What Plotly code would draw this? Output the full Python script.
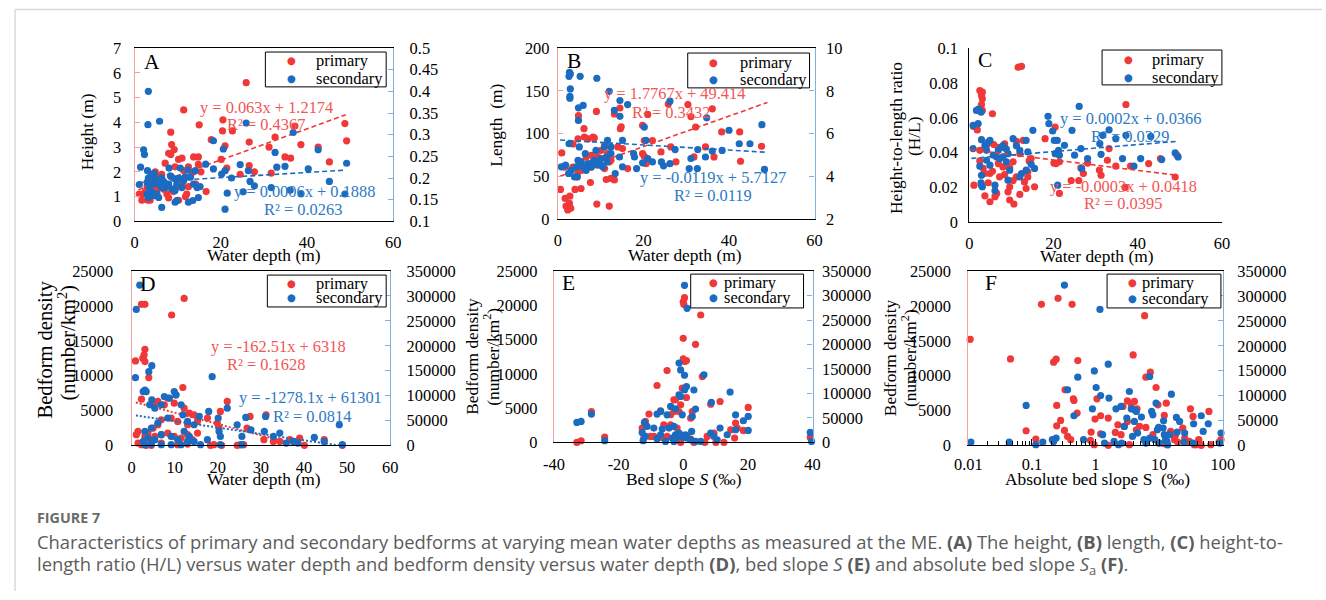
import numpy as np
import plotly.graph_objects as go

# Page geometry: the body keeps an 8 px margin and the photographed page maps
# page pixels to picture pixels as  X = SX*x + X0,  Y = SY*y  (measured).
OFF = 8
SX, SY, X0 = 0.982, 0.9725, 4.4
W, H = 1334, 601
FS = 2.0 / (SX + SY)          # size compensation for the photographic scaling
SERIF = "Liberation Serif, Times New Roman, Times, serif"
SANS = "Open Sans, sans-serif"
RED = "#F03838"
BLUE = "#1B6BC0"
RED_TXT = "#F25656"
BLUE_TXT = "#2D7AC4"
RED_AX = "#F4A0A0"
BLUE_AX = "#7FB0DE"

# ---------------- DATA ----------------
A_pri = [(25.9,5.6),(11.4,4.5),(15.0,3.9),(20.5,4.1),(20.4,3.65),(22.7,3.65),(8.4,3.6),(8.6,3.1),(9.2,2.9),(7.9,2.75),
         (8.4,2.7),(17.8,3.3),(21.0,3.05),(26.6,3.2),(32.6,3.4),(31.2,3.0),(37.2,3.85),(38.6,3.1),(42.6,3.0),(48.8,3.95),
         (49.2,3.25),(34.9,2.6),(36.2,2.55),(45.2,2.4),(20.1,2.5),(21.4,2.15),(24.5,1.9),(26.6,2.25),(27.8,2.0),(31.7,1.95),
         (16.6,1.2),(13.7,2.6),(14.8,2.6),(10.2,2.5),(11.0,2.55),(12.5,2.2),(13.7,2.0),(14.8,2.3),(15.4,2.0),(9.4,2.2),
         (6.3,1.9),(5.6,1.8),(7.1,2.35),(4.0,1.4),(2.1,1.1),(1.7,0.85),(1.1,1.1),(3.1,0.85),(3.6,0.85),(10.2,0.85),
         (12.1,1.1),(12.5,1.4),(7.9,0.95),(6.3,1.5),(3.4,0.95),(2.9,1.4),(5.2,1.25),(10.2,1.65),(11.0,1.5),(9.8,1.4),
         (8.6,1.8),(11.4,2.05),(4.5,1.6),(5.0,1.1),(2.5,1.2),(6.8,1.3),(13.0,1.8),(9.0,1.2),(7.5,1.1),(14.2,1.5),
         (11.8,1.0),(4.8,2.0)]
A_sec = [(3.2,0.40),(3.1,0.323),(5.8,0.331),(2.1,0.265),(2.3,0.254),(1.4,0.225),(1.1,0.185),(3.0,0.217),(4.6,0.211),(8.0,0.223),
         (10.6,0.223),(12.4,0.218),(14.1,0.217),(16.5,0.232),(18.3,0.286),(20.6,0.267),(18.3,0.221),(20.2,0.209),(21.0,0.217),(24.5,0.231),
         (25.9,0.327),(26.8,0.192),(27.8,0.182),(26.4,0.217),(33.0,0.225),(32.6,0.259),(34.9,0.227),(36.8,0.305),(36.1,0.172),(38.6,0.163),
         (40.3,0.221),(42.6,0.265),(45.2,0.192),(49.2,0.234),(48.8,0.163),(31.7,0.178),(25.2,0.168),(21.5,0.165),(21.0,0.128),(6.3,0.132),
         (9.4,0.144),(9.8,0.148),(12.5,0.144),(13.5,0.148),(14.8,0.155),(22.5,0.20),(2.9,0.163),(3.2,0.155),(3.6,0.159),(4.0,0.167),
         (4.4,0.159),(5.2,0.163),(5.6,0.155),(3.4,0.178),(4.4,0.186),(5.6,0.186),(6.3,0.178),(7.1,0.178),(7.9,0.186),(8.6,0.175),
         (9.4,0.171),(9.8,0.186),(11.0,0.178),(11.4,0.194),(11.7,0.202),(12.9,0.202),(13.7,0.186),(14.5,0.178),(15.2,0.18),(3.2,0.20),
         (4.8,0.198),(6.3,0.20),(8.3,0.205),(9.4,0.198),(2.9,0.19),(3.9,0.209),(6.7,0.192),(10.3,0.2)]
A_fit_pri = (0.063, 1.2174)
A_fit_sec = (0.0006, 0.1888)
A_fit_x = [0.9, 49]

B_pri = [(2.6,14.7),(2.7,18.6),(2.3,10.9),(1.9,15.5),(3.0,12.8),(2.8,27),(1.7,24.4),(0.6,34.9),(0.9,77.5),(4.0,34.9),
         (5.4,36),(7.6,43),(9.1,17.8),(12.0,15.5),(13.2,46),(4.5,49.6),(4.7,55.4),(4.8,121),(6.1,105.8),(9.0,126),
         (13.2,123),(14.5,130),(14.6,105.8),(14.8,108),(7.1,94),(8.2,96),(8.5,95),(6.2,96),(4.7,94),(3.5,88),
         (10.1,80.6),(10.9,86),(11.6,76.7),(12.4,69),(12.0,67),(14.0,84.5),(15.1,82.6),(9.3,72.9),(7.8,74.8),(6.6,72.9),
         (5.4,67),(5.4,57),(7.8,61),(10.1,63),(10.9,59.3),(12.4,47.7),(11.3,46.5),(16.3,59.3),(19.8,109.7),(21.0,122.5),
         (22.1,92),(20.2,92),(19.8,76.7),(20.2,73.6),(20.6,65),(24.1,78.7),(25.8,134.6),(26.4,84.5),(27.6,67),(30.4,134),
         (31.1,120),(31.8,72.9),(32.2,107.8),(34.5,84.5),(36.1,129),(36.5,72.9),(38.3,102),(42.5,102),(42.7,67.8),(47.6,85.3),
         (1.6,61),(3.5,61)]
B_sec = [(2.7,8.87),(2.9,8.79),(2.6,8.68),(2.9,8.09),(2.8,7.74),(2.8,7.66),(5.2,8.68),(9.1,8.59),(12.0,7.98),(5.9,7.32),
         (4.8,7.21),(4.8,6.62),(13.2,7.09),(14.5,7.55),(14.5,6.81),(16.3,7.36),(15.1,5.69),(26.2,7.52),(34.8,6.74),(40.0,6.16),
         (42.4,5.53),(44.9,5.53),(47.7,6.42),(48.3,4.33),(30.7,4.37),(32.6,4.37),(34.5,4.91),(36.1,5.19),(38.4,5.22),(32.7,5.26),
         (31.1,4.84),(27.4,5.26),(26.2,4.6),(24.7,4.5),(24.2,4.68),(22.1,4.68),(21.0,4.84),(20.2,6.31),(20.6,5.69),(19.8,4.64),
         (18.4,4.37),(17.9,4.91),(17.7,5.07),(15.1,4.45),(13.4,4.14),(12.4,5.38),(11.6,5.69),(10.9,5.38),(11.3,4.91),(10.5,4.45),
         (9.7,4.6),(8.9,5.22),(8.5,4.76),(7.8,4.45),(7.0,4.6),(6.4,5.07),(5.0,5.38),(4.7,4.76),(4.3,4.45),(3.9,3.98),
         (4.5,3.98),(3.1,4.29),(2.5,4.14),(0.8,4.45),(1.8,4.53),(2.6,5.53),(5.4,4.68),(5.8,4.45),(6.6,4.29),(8.2,4.68),
         (10.1,4.84),(12.4,5.07),(14.4,4.91),(11.5,4.68),(9.3,4.53)]
B_fit_pri = (1.7767, 49.414)
B_fit_sec = (-0.0119, 5.7127)
B_fit_x = [0.5, 49]

C_pri = [(11.6,0.089),(12.4,0.0895),(2.5,0.0756),(3.1,0.0747),(2.9,0.0728),(3.1,0.0709),(2.9,0.0676),(5.5,0.0623),(3.1,0.0642),(1.0,0.055),
         (1.9,0.053),(37.2,0.0676),(20.4,0.0547),(18.0,0.048),(20.1,0.034),(20.6,0.0337),(21.4,0.0347),(26.5,0.0312),(27.1,0.028),(28.1,0.034),
         (30.9,0.030),(31.3,0.027),(32.8,0.0356),(33.2,0.0423),(34.8,0.0322),(38.3,0.0322),(42.6,0.0337),(45.4,0.0366),(48.9,0.026),(49.3,0.0385),
         (37.0,0.020),(26.0,0.024),(24.2,0.024),(21.4,0.0166),(13.5,0.0194),(12.0,0.016),(9.6,0.0128),(10.6,0.0105),(9.6,0.0204),(9.2,0.0175),
         (3.7,0.0152),(4.9,0.0118),(6.1,0.0147),(6.5,0.0166),(1.1,0.0213),(4.5,0.0227),(4.9,0.028),(3.7,0.028),(5.5,0.0293),(7.2,0.0261),
         (8.4,0.0274),(8.0,0.0318),(6.9,0.0337),(8.8,0.0328),(9.6,0.0312),(10.4,0.0347),(12.0,0.0394),(11.2,0.0261),(13.9,0.029),(14.2,0.0352),
         (14.7,0.0366),(15.5,0.0204),(12.8,0.047),(11.2,0.0465),(8.4,0.045),(6.9,0.043),(5.8,0.0446),(4.1,0.0442),(2.5,0.0413),(2.5,0.0352),
         (3.3,0.0309),(10.4,0.024),(13.1,0.0232),(13.9,0.026)]
C_sec = [(1.7,0.0642),(2.8,0.0632),(2.2,0.065),(0.9,0.0556),(2.1,0.0566),(2.9,0.0474),(0.9,0.0423),(4.5,0.046),(4.9,0.047),(4.1,0.0413),
         (3.7,0.044),(5.7,0.0385),(6.5,0.0375),(6.9,0.0413),(7.6,0.043),(8.0,0.044),(8.8,0.042),(9.2,0.0394),(10.4,0.048),(11.2,0.044),
         (12.0,0.0413),(13.5,0.047),(13.9,0.0404),(15.1,0.0528),(18.7,0.0608),(18.9,0.0566),(19.8,0.0524),(20.2,0.047),(20.9,0.047),(21.2,0.0413),
         (20.4,0.0394),(21.4,0.0385),(22.6,0.0442),(24.4,0.0528),(25.0,0.0385),(26.1,0.0665),(26.5,0.0423),(26.7,0.0309),(28.1,0.0366),(31.3,0.039),
         (31.0,0.0451),(31.7,0.0499),(33.2,0.0531),(34.8,0.048),(37.2,0.0499),(36.4,0.0366),(39.1,0.0322),(40.7,0.0366),(45.7,0.036),(48.9,0.0398),
         (49.6,0.0375),(43.1,0.0493),(21.0,0.0213),(14.7,0.0333),(15.5,0.0309),(13.5,0.0299),(12.4,0.028),(12.0,0.0261),(9.6,0.0299),(9.2,0.0242),
         (6.1,0.0213),(6.1,0.0181),(2.5,0.0322),(2.9,0.027),(2.9,0.0213),(3.1,0.0204),(2.8,0.0227),(4.9,0.0328),(8.8,0.0347),(4.1,0.0356),
         (7.2,0.0366),(8.0,0.0375)]
C_fit_pri = (-0.0003, 0.0418)
C_fit_sec = (0.0002, 0.0366)
C_fit_x = [0.5, 49]

D_pri = [(2.3,20230),(3.1,20230),(12.2,21080),(9.3,18700),(0.9,12120),(3.1,13790),(2.9,12980),(2.6,12500),(3.1,12020),(4.0,9730),
         (5.2,5720),(2.3,6630),(6.1,6300),(7.6,5820),(8.4,6770),(9.9,6060),(10.3,7250),(11.9,8300),(12.2,5340),(13.4,4630),
         (14.5,4390),(15.3,3430),(13.0,2960),(10.7,3430),(9.2,3910),(6.9,3670),(6.1,2960),(5.0,2480),(3.8,1770),(1.5,2000),
         (1.1,1530),(3.1,1290),(4.6,810),(5.4,1290),(6.9,1530),(8.4,1770),(9.9,1290),(11.5,1050),(13.0,1530),(14.1,810),
         (15.3,1770),(1.5,330),(2.3,100),(3.4,0),(4.6,0),(6.9,330),(10.7,100),(13.0,190),(18.3,0),(19.1,100),
         (17.6,3910),(19.9,3190),(20.3,2480),(20.6,4870),(22.2,6300),(20.9,0),(24.5,0),(25.2,100),(26.8,2480),(26.0,100),
         (27.5,4150),(30.7,810),(31.2,4390),(32.9,570),(34.4,570),(36.7,810),(38.4,570),(40.1,0),(44.7,810),(39.0,1050),
         (48.9,0)]
D_sec = [(1.9,322000),(1.1,273000),(0.9,136000),(2.7,108000),(3.1,111000),(3.4,108000),(4.0,148000),(4.7,160000),(4.2,81500),(4.7,91500),
         (5.4,74800),(6.9,81500),(7.6,98200),(8.8,94900),(9.9,108000),(10.3,101500),(11.5,81500),(11.9,61400),(13.0,48100),(14.5,41400),
         (15.7,58100),(8.4,54800),(6.1,44800),(4.6,34700),(3.1,28100),(3.8,14700),(2.7,8000),(5.4,11400),(6.9,21400),(9.2,18000),
         (10.7,11400),(12.2,28100),(13.4,18000),(14.5,8000),(16.0,1300),(17.6,11400),(13.0,8000),(11.5,1300),(9.2,1300),(6.9,1300),
         (4.6,2700),(3.1,1300),(18.7,138000),(17.9,68100),(20.1,54800),(20.3,28100),(20.6,18000),(22.2,74800),(24.5,41400),(25.6,18000),
         (26.5,56100),(27.7,31400),(30.8,28100),(31.1,58100),(32.9,18000),(34.4,24700),(35.9,4700),(37.5,8000),(38.6,4700),(42.4,16000),
         (44.7,8000),(48.2,41400),(48.9,1300),(20.6,1300),(25.6,1300)]
D_fit_pri = (-162.51, 6318)
D_fit_sec = (-1278.1, 61301)
D_fit_x = [1, 49]

E_pri = [(0.4,21120),(0.0,20530),(0.2,20140),(5.4,18590),(0.0,15190),(0.0,12180),(0.5,11800),(1.0,11940),(3.8,14320),(-5.0,10480),
         (-8.1,8300),(5.9,9610),(-0.3,7910),(-2.4,6210),(-2.9,6210),(1.0,6550),(-0.8,5490),(-1.3,4510),(-7.0,4610),(-10.6,4130),
         (-28.4,4510),(-11.7,3060),(-6.0,2570),(-3.9,2570),(-1.9,2090),(2.3,3540),(2.8,4510),(8.5,5580),(11.4,5970),(20.1,5100),
         (16.2,2820),(14.7,1840),(18.6,1750),(16.7,2090),(15.9,630),(9.5,1360),(7.4,870),(10.1,0),(12.6,0),(3.3,0),
         (6.7,0),(-0.8,0),(-12.2,630),(-10.1,870),(-9.1,870),(-7.0,730),(-5.0,870),(-2.4,870),(1.2,870),(2.3,490),
         (-32.9,0),(-31.6,240),(-24.3,780),(39.3,730),(-12.7,2090),(-3.9,4030),(-2.9,4510)]
E_sec = [(0.4,321000),(1.2,274000),(-1.3,162000),(-0.8,148000),(0.4,137000),(6.4,138000),(1.0,114000),(0.4,107000),(3.3,107000),(14.5,103000),
         (8.7,81600),(-1.3,97200),(-0.8,93800),(-3.9,73400),(-2.4,68600),(-7.0,63200),(-8.1,57800),(3.8,68000),(2.8,53000),(-0.3,56400),
         (-5.0,56400),(-28.4,57800),(-32.9,40800),(-31.6,42800),(-12.0,40800),(-11.2,32600),(-9.1,29200),(-6.5,27200),(-4.4,29200),(-2.9,32600),
         (2.6,22400),(8.5,19000),(11.4,29200),(16.2,56400),(18.6,44200),(20.1,53000),(20.1,24500),(16.2,25800),(13.6,15600),(10.5,5400),
         (9.5,12200),(-12.7,20400),(-11.7,12200),(-12.4,3400),(-24.3,3400),(-8.1,7500),(-5.5,2000),(-3.4,8800),(-2.4,15600),(-1.9,10200),
         (-1.3,19000),(-0.8,15600),(-0.3,12200),(0.2,10200),(0.7,15600),(1.2,8800),(2.3,5400),(3.8,2000),(5.4,2000),(39.3,20400),
         (39.7,2000),(-2.9,2000),(-7.0,15600)]

F_pri = [(0.0107,15220),(0.046,12400),(0.081,2100),(0.115,900),(0.141,20230),(0.257,21090),(0.427,20230),(0.219,11930),(0.24,12360),(0.525,12170),
         (0.245,5730),(0.245,2810),(0.282,3580),(0.331,7970),(0.447,6680),(0.457,6440),(0.513,4630),(0.324,2150),(0.363,1290),(0.407,810),
         (1.05,6680),(0.98,3770),(1.2,4250),(1.58,3910),(1.58,0),(1.2,1670),(0.85,1910),(0.83,720),(0.95,100),(2.04,1860),
         (2.24,2960),(2.69,5580),(3.16,6390),(3.63,5920),(4.07,6300),(3.89,12980),(4.47,5250),(3.16,3440),(2.82,2720),(2.51,1530),
         (3.39,100),(4.37,2240),(4.9,2720),(5.89,18610),(6.17,9780),(7.24,10500),(6.17,2580),(7.94,1530),(8.91,8300),(9.55,5820),
         (12.0,4290),(12.9,6060),(15.1,2000),(17.4,810),(17.8,1380),(19.5,480),(23.4,2480),(25.1,1050),(29.5,570),(33.9,4150),
         (38.0,100),(30.9,5250),(35.5,100),(41.7,810),(42.7,330),(60.3,4870),(64.6,100),(87.1,480),(93.3,810),(45.7,0),
         (9.77,330),(12.0,240),(13.5,100)]
F_sec = [(0.011,6700),(0.044,6700),(0.081,80200),(0.115,1300),(0.148,6700),(0.209,11400),(0.24,14700),(0.219,8000),(0.324,322000),(0.363,111500),
         (0.457,59500),(0.525,137000),(0.646,11400),(0.891,73500),(0.955,149600),(1.02,116200),(1.2,100200),(1.17,273000),(1.62,94900),(1.58,163000),
         (1.29,21400),(1.38,4700),(1.95,8000),(2.09,73500),(2.29,1300),(2.51,78200),(2.57,4700),(2.82,38100),(3.09,54800),(3.39,108200),
         (3.63,73500),(4.07,71500),(4.37,68100),(4.07,48100),(3.8,18000),(4.57,24700),(5.25,56800),(5.75,11400),(6.17,4700),(7.08,138300),
         (7.08,14700),(7.59,68100),(7.94,61400),(8.91,84800),(9.33,31400),(8.51,11400),(9.77,36100),(11.5,34700),(11.7,49400),(12.0,21400),
         (12.6,11400),(13.5,1300),(14.5,21400),(15.5,102900),(13.2,8000),(19.1,26700),(18.6,56100),(20.9,48100),(25.1,24700),(24.5,6700),
         (33.9,4700),(34.7,43400),(45.7,59500),(49.0,28100),(58.9,43400),(89.1,4700),(93.3,24700),(10.0,4700)]

# tick labels
A_left_ticks = [0, 1, 2, 3, 4, 5, 6, 7]
A_right_ticks = ["0.1", "0.15", "0.2", "0.25", "0.3", "0.35", "0.4", "0.45", "0.5"]
B_left_ticks = [0, 50, 100, 150, 200]
B_right_ticks = [2, 4, 6, 8, 10]
C_left_ticks = ["0", "0.02", "0.04", "0.06", "0.08", "0.1"]
depth_ticks = [0, 20, 40, 60]
depth_ticks_D = [0, 10, 20, 30, 40, 50, 60]
dens_left_ticks = [0, 5000, 10000, 15000, 20000, 25000]
dens_right_ticks = [0, 50000, 100000, 150000, 200000, 250000, 300000, 350000]
slope_ticks = ["-40", "-20", "0", "20", "40"]
abs_slope_ticks = ["0.01", "0.1", "1", "10", "100"]

# ---------------- HELPERS ----------------
def fx(d):
    return ((d - X0) / SX - OFF) / W

def fy(d):
    return 1 - (d / SY - OFF) / H

def fs(v):
    return round(v * FS, 1)

def so(v):
    return int(round(v * FS))

def unzip(pairs):
    return [p[0] for p in pairs], [p[1] for p in pairs]

TF = dict(family=SERIF, size=fs(16), color="black")

def xax(px0, px1, anchor, rng, tv, tt, mirror=True, axtype="linear", standoff=6, ticks="", minor=None):
    d = dict(domain=[fx(px0), fx(px1)], anchor=anchor, range=rng, type=axtype,
             tickmode="array", tickvals=tv, ticktext=[str(t) for t in tt],
             showline=True, linecolor="black", linewidth=1, mirror=mirror,
             ticks=ticks, ticklen=6, tickcolor="black", showgrid=False, zeroline=False,
             tickfont=TF, ticklabelstandoff=so(standoff))
    if minor:
        d["minor"] = minor
    return d

def yax(anchor, rng, tv, tt, color, py=None, side="left", overlaying=None,
        ticks="inside", standoff=6, lw=1.3):
    d = dict(anchor=anchor, range=rng, tickmode="array", tickvals=tv,
             ticktext=[str(t) for t in tt], showline=True, linecolor=color,
             linewidth=lw, ticks=ticks, tickcolor=color, ticklen=5, side=side,
             showgrid=False, zeroline=False, tickfont=TF, ticklabelstandoff=so(standoff))
    if overlaying:
        d["overlaying"] = overlaying
    else:
        d["domain"] = [fy(py[1]), fy(py[0])]
    return d

fig = go.Figure()

def pts(pairs, color, xa, ya):
    x, y = unzip(pairs)
    fig.add_trace(go.Scatter(x=x, y=y, mode="markers", xaxis=xa, yaxis=ya,
                             marker=dict(size=fs(7), color=color, line=dict(width=0)),
                             cliponaxis=False, hoverinfo="skip"))

def fit(coef, xr, color, xa, ya, dash="5px,3px", width=1.6):
    x = np.array(xr, dtype=float)
    y = coef[0] * x + coef[1]
    fig.add_trace(go.Scatter(x=x, y=y, mode="lines", xaxis=xa, yaxis=ya,
                             line=dict(color=color, width=width, dash=dash), hoverinfo="skip"))

# ---------------- TRACES ----------------
pts(A_pri, RED, "x", "y")
fit(A_fit_pri, A_fit_x, RED, "x", "y")
pts(A_sec, BLUE, "x", "y7")
fit(A_fit_sec, A_fit_x, BLUE, "x", "y7")

pts(B_pri, RED, "x2", "y2")
fit(B_fit_pri, B_fit_x, RED, "x2", "y2")
pts(B_sec, BLUE, "x2", "y8")
fit(B_fit_sec, B_fit_x, BLUE, "x2", "y8")

pts(C_pri, RED, "x3", "y3")
pts(C_sec, BLUE, "x3", "y3")
fit(C_fit_pri, C_fit_x, RED, "x3", "y3")
fit(C_fit_sec, C_fit_x, BLUE, "x3", "y3")

pts(D_pri, RED, "x4", "y4")
fit(D_fit_pri, D_fit_x, RED, "x4", "y4", dash="2px,2px", width=2)
pts(D_sec, BLUE, "x4", "y9")
fit(D_fit_sec, D_fit_x, BLUE, "x4", "y9", dash="2px,2px", width=2)

pts(E_pri, RED, "x5", "y5")
pts(E_sec, BLUE, "x5", "y10")

pts(F_pri, RED, "x6", "y6")
pts(F_sec, BLUE, "x6", "y11")

# ---------------- AXES ----------------
minor_log = dict(ticks="inside", ticklen=4, tickcolor="black", showgrid=False,
                 tickmode="array",
                 tickvals=[m * 10.0 ** e for e in range(-2, 2) for m in range(2, 10)])

layout = dict(
    width=W, height=H, margin=dict(l=0, r=0, t=0, b=0), autosize=False,
    paper_bgcolor="white", plot_bgcolor="rgba(0,0,0,0)", showlegend=False,
    font=dict(family=SERIF, size=fs(16), color="black"),
    xaxis=xax(133, 392, "y", [0, 60], depth_ticks, depth_ticks),
    yaxis=yax("x", [0, 7], A_left_ticks, A_left_ticks, RED_AX, py=(47, 221), standoff=9),
    yaxis7=yax("x", [0.1, 0.5], [float(t) for t in A_right_ticks], A_right_ticks, BLUE_AX,
               side="right", overlaying="y", standoff=12),
    xaxis2=xax(557, 814, "y2", [0, 60], depth_ticks, depth_ticks),
    yaxis2=yax("x2", [0, 200], B_left_ticks, B_left_ticks, RED_AX, py=(47, 219), standoff=4),
    yaxis8=yax("x2", [2, 10], B_right_ticks, B_right_ticks, BLUE_AX,
               side="right", overlaying="y2", standoff=7),
    xaxis3=xax(969, 1222, "y3", [0, 60], depth_ticks, depth_ticks, mirror=False),
    yaxis3=yax("x3", [0, 0.1], [float(t) for t in C_left_ticks], C_left_ticks, "black",
               py=(47, 222), ticks="", standoff=7, lw=1),
    xaxis4=xax(130, 389, "y4", [0, 60], depth_ticks_D, depth_ticks_D, standoff=7),
    yaxis4=yax("x4", [0, 25000], dens_left_ticks, dens_left_ticks, RED_AX, py=(271, 446),
               ticks="", standoff=14),
    yaxis9=yax("x4", [0, 350000], dens_right_ticks, dens_right_ticks, BLUE_AX,
               side="right", overlaying="y4", standoff=12),
    xaxis5=xax(553, 812, "y5", [-40, 40], [-40, -20, 0, 20, 40], slope_ticks, standoff=7),
    yaxis5=yax("x5", [0, 25000], dens_left_ticks, dens_left_ticks, RED_AX, py=(271, 443),
               ticks="", standoff=12),
    yaxis10=yax("x5", [0, 350000], dens_right_ticks, dens_right_ticks, BLUE_AX,
                side="right", overlaying="y5", standoff=5),
    xaxis6=xax(968, 1223, "y6", [-2, 2], [0.01, 0.1, 1, 10, 100], abs_slope_ticks,
               axtype="log", ticks="inside", minor=minor_log, standoff=4),
    yaxis6=yax("x6", [0, 25000], dens_left_ticks, dens_left_ticks, RED_AX, py=(271, 446),
               ticks="", standoff=13),
    yaxis11=yax("x6", [0, 350000], dens_right_ticks, dens_right_ticks, BLUE_AX,
                side="right", overlaying="y6", standoff=10),
)

# ---------------- ANNOTATIONS ----------------
ann = []

def txt(x, y, text, size=16, color="black", xanchor="center", angle=0, family=SERIF):
    ann.append(dict(x=fx(x), y=fy(y), xref="paper", yref="paper", text=text, showarrow=False,
                    xanchor=xanchor, yanchor="middle", textangle=angle,
                    font=dict(family=family, size=fs(size), color=color)))

for (lx, ly, L) in [(150, 61, "A"), (573, 60, "B"), (985, 59, "C"),
                    (146, 284, "D"), (568, 283, "E"), (991, 283, "F")]:
    txt(lx, ly, L, size=21)

txt(265, 107, "y = 0.063x + 1.2174", color=RED_TXT)
txt(265, 124, "R² = 0.4367", color=RED_TXT)
txt(303, 191, "y = 0.0006x + 0.1888", color=BLUE_TXT)
txt(302, 209, "R² = 0.0263", color=BLUE_TXT)

txt(674, 93, "y = 1.7767x + 49.414", color=RED_TXT)
txt(670, 112, "R² = 0.3432", color=RED_TXT)
txt(712, 177, "y = -0.0119x + 5.7127", color=BLUE_TXT)
txt(712, 195, "R² = 0.0119", color=BLUE_TXT)

txt(1130, 118, "y = 0.0002x + 0.0366", color=BLUE_TXT)
txt(1130, 136, "R² = 0.0329", color=BLUE_TXT)
txt(1123, 186, "y = -0.0003x + 0.0418", color=RED_TXT)
txt(1123, 203, "R² = 0.0395", color=RED_TXT)

txt(277, 347, "y = -162.51x + 6318", color=RED_TXT)
txt(265, 365, "R² = 0.1628", color=RED_TXT)
txt(309, 398, "y = -1278.1x + 61301", color=BLUE_TXT)
txt(311, 417, "R² = 0.0814", color=BLUE_TXT)

for (ax_x, ax_y, t) in [(263, 255, "Water depth (m)"), (684, 255, "Water depth (m)"),
                        (1097, 256, "Water depth (m)"), (263, 480, "Water depth (m)"),
                        (683, 480, "Bed slope <i>S</i> (‰)"),
                        (1097, 480, "Absolute bed slope S\u00a0\u00a0(‰)")]:
    txt(ax_x, ax_y, t, size=17)

txt(85, 131, "Height (m)", size=17, angle=-90)
txt(495, 125, "Length\u00a0\u00a0(m)", size=17, angle=-90)
txt(895, 137, "Height-to-length ratio", size=17, angle=-90)
txt(913, 135, "(H/L)", size=17, angle=-90)
txt(44, 350, "Bedform density", size=20, angle=-90)
txt(66, 343, "(number/km<sup>2</sup>)", size=20, angle=-90)
txt(471, 357, "Bedform density", size=17, angle=-90)
txt(490, 357, "(number/km<sup>2</sup>)", size=17, angle=-90)
txt(889, 358, "Bedform density", size=17, angle=-90)
txt(908, 358, "(number/km<sup>2</sup>)", size=17, angle=-90)

shapes = []
legends = [
    (264, 385, 51, 86, 290, 60, 78, 313),
    (687, 809, 52, 87, 713, 62, 79, 737),
    (1102, 1222, 49, 84, 1128, 58, 77, 1150),
    (266, 385, 275, 307, 290, 283, 298, 313),
    (690, 803, 274, 308, 713, 282, 298, 721),
    (1107, 1221, 274, 308, 1132, 282, 299, 1140),
]
for (bx0, bx1, by0, by1, dx, dy1, dy2, tx) in legends:
    shapes.append(dict(type="rect", xref="paper", yref="paper", x0=fx(bx0), x1=fx(bx1),
                       y0=fy(by1), y1=fy(by0), line=dict(color="black", width=1),
                       fillcolor="white", layer="above"))
    txt(dx, dy1, "●", size=10, color=RED, family="DejaVu Sans")
    txt(dx, dy2, "●", size=10, color=BLUE, family="DejaVu Sans")
    txt(tx, dy1, "primary", size=16, xanchor="left")
    txt(tx, dy2, "secondary", size=16, xanchor="left")

# card frame (left and top edges of the article panel), kept inside the figure
shapes.append(dict(type="line", xref="paper", yref="paper", x0=0.0008, x1=0.0008,
                   y0=0, y1=0.999, line=dict(color="#d9d9d9", width=1.5)))
shapes.append(dict(type="line", xref="paper", yref="paper", x0=0.0008, x1=1,
                   y0=0.999, y1=0.999, line=dict(color="#d9d9d9", width=1.5)))

txt(33, 518, "<b>FIGURE 7</b>", size=14, color="#6a6a6a", xanchor="left", family=SANS)
txt(33, 543, "Characteristics of primary and secondary bedforms at varying mean water depths as "
             "measured at the ME. <b>(A)</b> The height, <b>(B)</b> length, <b>(C)</b> height-to-",
    size=18, color="#5c5c5c", xanchor="left", family=SANS)
txt(33, 566, "length ratio (H/L) versus water depth and bedform density versus water depth "
             "<b>(D)</b>, bed slope <i>S</i> <b>(E)</b> and absolute bed slope <i>S</i><sub>a</sub> <b>(F)</b>.",
    size=18, color="#5c5c5c", xanchor="left", family=SANS)

layout["annotations"] = ann
layout["shapes"] = shapes
fig.update_layout(**layout)
fig.write_html("out.html")
